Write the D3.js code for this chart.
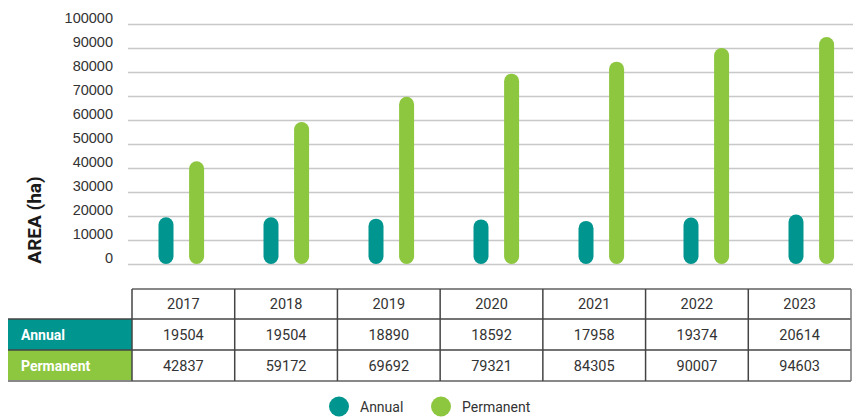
<!DOCTYPE html>
<html>
<head>
<meta charset="utf-8">
<script src="https://cdn.jsdelivr.net/npm/d3@7"></script>
<style>
  body { margin: 0; background: #fff; }
  svg { font-family: Roboto, "Noto Sans", sans-serif; }
  .grid line { stroke: #c8c8c8; stroke-width: 1.5; }
  .grid path { display: none; }
  .y.axis path, .y.axis line { display: none; }
  .y.axis text { font-size: 14.5px; fill: #333; }
</style>
</head>
<body>
<div id="chart"></div>
<script>
var years = ["2017", "2018", "2019", "2020", "2021", "2022", "2023"];
var annual = [19504, 19504, 18890, 18592, 17958, 19374, 20614];
var permanent = [42837, 59172, 69692, 79321, 84305, 90007, 94603];
var seriesNames = ["Annual", "Permanent"];
var seriesColors = ["#00968f", "#8dc63f"];
var yTicks = [0, 10000, 20000, 30000, 40000, 50000, 60000, 70000, 80000, 90000, 100000];

var width = 853, height = 417;

var svg = d3.select("#chart").append("svg")
    .attr("width", width)
    .attr("height", height);

var yScale = d3.scaleLinear()
    .domain([0, 100000])
    .range([264, 24]);

var xScale = d3.scaleBand()
    .domain(years)
    .range([128.8, 863.8]);

var tableX = d3.scaleBand()
    .domain(years)
    .range([132, 851]);

// gridlines
svg.append("g")
    .attr("class", "grid")
    .attr("transform", "translate(128,0)")
    .call(d3.axisLeft(yScale).tickValues(yTicks).tickSize(-725).tickFormat(""));

// tick labels sit on top of their gridline
svg.append("g")
    .attr("class", "y axis")
    .attr("transform", "translate(116,0)")
    .call(d3.axisLeft(yScale).tickValues(yTicks).tickSize(0).tickPadding(3).tickFormat(d3.format("d")))
    .selectAll("text")
        .attr("dy", "-0.1em");

svg.append("text")
    .attr("transform", "translate(41,220) rotate(-90)")
    .attr("text-anchor", "middle")
    .style("font-size", "19px")
    .style("font-weight", "bold")
    .style("fill", "#1a1a1a")
    .text("AREA (ha)");

// bars
var barW = 15;
var offsets = [-15.3, 15.3];
[annual, permanent].forEach(function(vals, s) {
  svg.selectAll(".bar-" + s)
    .data(vals)
    .enter()
    .append("rect")
    .attr("class", "bar-" + s)
    .attr("x", (d, i) => xScale(years[i]) + xScale.bandwidth() / 2 + offsets[s] - barW / 2)
    .attr("y", d => yScale(d))
    .attr("width", barW)
    .attr("height", d => yScale(0) - yScale(d))
    .attr("rx", barW / 2)
    .attr("fill", seriesColors[s]);
});

// table
var rowTop = [289, 319, 350, 381];
var table = svg.append("g");
var rows = [years, annual, permanent];

// label cells
[1, 2].forEach(function(r) {
  table.append("rect")
    .attr("x", 8)
    .attr("y", rowTop[r])
    .attr("width", 124)
    .attr("height", rowTop[r + 1] - rowTop[r])
    .attr("fill", seriesColors[r - 1]);
  table.append("text")
    .attr("x", 21)
    .attr("y", (rowTop[r] + rowTop[r + 1]) / 2 + 5)
    .style("font-size", "14px")
    .style("font-weight", "bold")
    .style("fill", "#fff")
    .text(seriesNames[r - 1]);
});

rows.forEach(function(vals, r) {
  table.selectAll(".cell-" + r)
    .data(vals)
    .enter()
    .append("text")
    .attr("x", (d, i) => tableX(years[i]) + tableX.bandwidth() / 2)
    .attr("y", (rowTop[r] + rowTop[r + 1]) / 2 + 5)
    .attr("text-anchor", "middle")
    .style("font-size", "14.5px")
    .style("fill", "#333")
    .text(d => d);
});

// table borders
var borderColor = "#777";
[0, 1, 2, 3].forEach(function(r) {
  table.append("line")
    .attr("x1", r === 0 ? 132 : 8)
    .attr("x2", 851)
    .attr("y1", rowTop[r])
    .attr("y2", rowTop[r])
    .attr("stroke", r === 0 || r === 3 ? "#888" : "#444")
    .attr("stroke-width", r === 0 || r === 3 ? 2 : 1.5);
});
years.forEach(function(y, i) {
  table.append("line")
    .attr("x1", tableX(y))
    .attr("x2", tableX(y))
    .attr("y1", rowTop[0])
    .attr("y2", rowTop[3])
    .attr("stroke", "#444")
    .attr("stroke-width", 1.5);
});
table.append("line")
  .attr("x1", 851).attr("x2", 851)
  .attr("y1", rowTop[0]).attr("y2", rowTop[3])
  .attr("stroke", borderColor).attr("stroke-width", 1.5);

// legend
var legendX = [339, 441];
seriesNames.forEach(function(name, s) {
  svg.append("circle")
    .attr("cx", legendX[s])
    .attr("cy", 406.5)
    .attr("r", 10)
    .attr("fill", seriesColors[s]);
  svg.append("text")
    .attr("x", legendX[s] + 21)
    .attr("y", 411.5)
    .style("font-size", "14px")
    .style("fill", "#333")
    .text(name);
});
</script>
</body>
</html>
